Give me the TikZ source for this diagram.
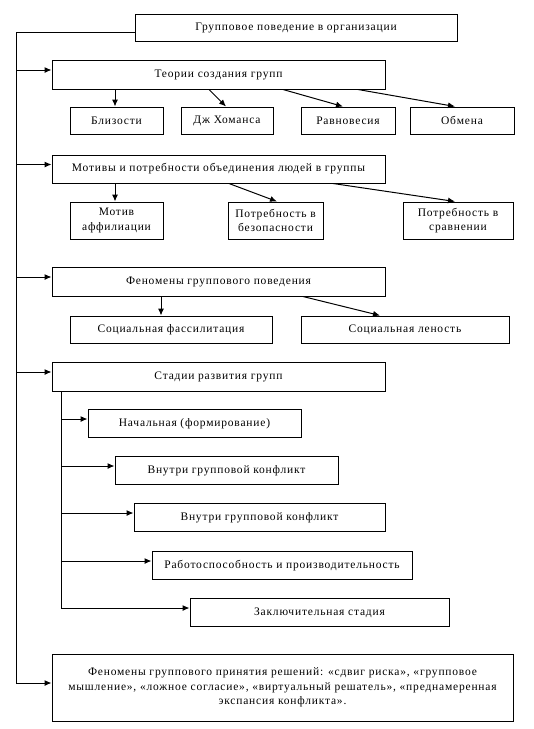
\documentclass[tikz,border=0pt]{standalone}
\usepackage{fontspec}
\setmainfont{Liberation Serif}[LetterSpace=7]
\usetikzlibrary{positioning,arrows.meta}

\begin{document}
\begin{tikzpicture}[x=1pt, y=-1pt, >={Latex[length=7pt,width=6pt]},
  box/.style={draw, line width=1pt, inner sep=2pt, align=center,
    font=\fontsize{11.5}{14.5}\selectfont},
  link/.style={->, line width=1pt}]

\useasboundingbox (0,0) rectangle (534,729);

\node [box, minimum width=322pt, minimum height=27pt] (root) at (296,27.5) {Групповое поведение в организации};

% main branches
\node [box, minimum width=333pt, minimum height=29pt] (theory) at (218.5,74.5) {Теории создания групп};
\node [box, minimum width=333pt, minimum height=28pt] (motive) at (218.5,169) {Мотивы и потребности объединения людей в группы};
\node [box, minimum width=333pt, minimum height=29pt] (phenom) at (218.5,281.5) {Феномены группового поведения};
\node [box, minimum width=333pt, minimum height=29pt] (stages) at (218.5,376.5) {Стадии развития групп};
\node [box, minimum width=461pt, minimum height=67pt] (decision) at (282.5,687.5)
  {Феномены группового принятия решений: «сдвиг риска», «групповое\\
   мышление», «ложное согласие», «виртуальный решатель», «преднамеренная\\
   экспансия конфликта».};

\foreach \t/\x/\w [count=\i] in {Близости/116.5/93, Дж Хоманса/227/92, Равновесия/348/94, Обмена/462/104}
  \node [box, minimum width=\w pt, minimum height=27pt] (theory-\i) at (\x,120.5) {\t};

\foreach \t/\x/\w [count=\i] in {Мотив\\аффилиации/116.5/93, Потребность в\\безопасности/275.5/95, Потребность в\\сравнении/458/110}
  \node [box, minimum width=\w pt, minimum height=37pt] (motive-\i) at (\x,220.5) {\t};

\foreach \t/\x/\w [count=\i] in {Социальная фассилитация/171/202, Социальная леность/405/208}
  \node [box, minimum width=\w pt, minimum height=27pt] (phenom-\i) at (\x,329.5) {\t};

\foreach \t/\x/\y/\w [count=\i] in {Начальная (формирование)/194.5/423.5/213,
    Внутри групповой конфликт/226.5/470.5/223, Внутри групповой конфликт/259.5/517.5/251,
    Работоспособность и производительность/282/565.5/260, Заключительная стадия/319.5/612.5/259}
  \node [box, minimum width=\w pt, minimum height=28pt] (stage-\i) at (\x,\y) {\t};

% spine
\coordinate (spine) at (16,0);
\coordinate (sub) at (61,0);

\draw [line width=1pt] ([yshift=-4.5pt]root.west) -| ([yshift=4.5pt]spine |- decision.west);

\foreach \n in {theory,motive,phenom,stages,decision}
  \draw [link] ([yshift=4.5pt]spine |- \n.west) -- ([yshift=4.5pt]\n.west);

\draw [line width=1pt] (sub |- stages.south) -- ([yshift=4.5pt]sub |- stage-5.west);

\foreach \i in {1,...,5}
  \draw [link] ([yshift=4.5pt]sub |- stage-\i.west) -- ([yshift=4.5pt]stage-\i.west);

% sub items
\foreach \x/\e [count=\i] in {115/115, 209/226, 283/343, 358/455}
  \draw [link] (\x,0 |- theory.south) -- (\e,0 |- theory-\i.north);

\foreach \x/\e [count=\i] in {115/115, 229/277, 333/455}
  \draw [link] (\x,0 |- motive.south) -- (\e,0 |- motive-\i.north);

\foreach \x/\e [count=\i] in {161/161, 303/380}
  \draw [link] (\x,0 |- phenom.south) -- (\e,0 |- phenom-\i.north);

\end{tikzpicture}
\end{document}
